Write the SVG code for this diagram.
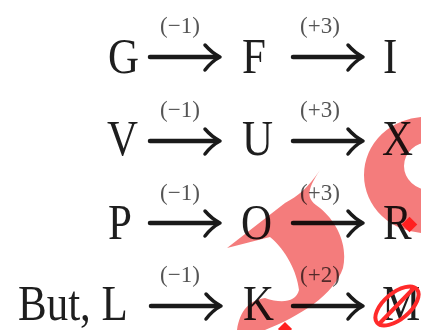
<svg xmlns="http://www.w3.org/2000/svg" xmlns:xlink="http://www.w3.org/1999/xlink" width="421" height="330" viewBox="0 0 421 330">
<style>
.t{font-family:"Liberation Serif","Times New Roman",serif;font-size:50px;fill:#1e1e1e}
.l{font-family:"Liberation Serif","Times New Roman",serif;font-size:23px;fill:#555;text-anchor:middle}
.a{fill:none;stroke:#1a1a1a;stroke-linecap:round;stroke-linejoin:round}
.wm{fill:#f47c7c;mix-blend-mode:multiply}
</style>
<defs>
<g id="arr">
<path class="a" d="M0,0 H66" stroke-width="4.5"/>
<path class="a" d="M55,-12 Q62,-4 70,0 Q62,4 55,13" stroke-width="3.5"/>
</g>
</defs>
<rect width="421" height="330" fill="#fff"/>
<g id="G"><text class="t" transform="translate(108,73) scale(0.86,1)">G</text></g>
<g id="F"><text class="t" transform="translate(242,73) scale(0.86,1)">F</text></g>
<g id="I"><text class="t" transform="translate(383,73) scale(0.86,1)">I</text></g>
<g id="V"><text class="t" transform="translate(107,155) scale(0.86,1)">V</text></g>
<g id="U"><text class="t" transform="translate(242,155) scale(0.86,1)">U</text></g>
<g id="X"><text class="t" transform="translate(382,155) scale(0.86,1)">X</text></g>
<g id="P"><text class="t" transform="translate(108,239) scale(0.86,1)">P</text></g>
<g id="O"><text class="t" transform="translate(241,239) scale(0.86,1)">O</text></g>
<g id="R"><text class="t" transform="translate(383,239) scale(0.86,1)">R</text></g>
<g id="L"><text class="t" transform="translate(18,320) scale(0.86,1)">But, L</text></g>
<g id="K"><text class="t" transform="translate(243,320) scale(0.86,1)">K</text></g>
<g id="M"><text class="t" transform="translate(382,320) scale(0.86,1)">M</text></g>
<g id="connectors">
<use xlink:href="#arr" x="150" y="57"/>
<use xlink:href="#arr" x="293" y="57"/>
<use xlink:href="#arr" x="150" y="141"/>
<use xlink:href="#arr" x="293" y="141"/>
<use xlink:href="#arr" x="150" y="223"/>
<use xlink:href="#arr" x="293" y="223"/>
<use xlink:href="#arr" x="151" y="306"/>
<use xlink:href="#arr" x="293" y="306"/>
<text class="l" x="180" y="33">(−1)</text>
<text class="l" x="320" y="33">(+3)</text>
<text class="l" x="180" y="117">(−1)</text>
<text class="l" x="320" y="117">(+3)</text>
<text class="l" x="180" y="200">(−1)</text>
<text class="l" x="320" y="200">(+3)</text>
<text class="l" x="180" y="282">(−1)</text>
<text class="l" x="320" y="282">(+2)</text>
</g>
<g id="watermark">
<path class="wm" fill-rule="evenodd" d="M486,175 A61,58 0 1 1 364,175 A61,58 0 1 1 486,175 Z M456,166 A26,24 0 1 1 404,166 A26,24 0 1 1 456,166 Z"/>
<path class="wm" d="M320,170 C308,188 298,196 285,203 L227,248 L270,237 C286,250 297,272 299,290 C296,302 282,304 265,298 C250,300 240,310 237,330 L265,330 C300,316 334,295 343,268 C348,245 337,222 320,208 C308,200 304,194 320,170 Z"/>
<rect x="404" y="219" width="11" height="11" fill="#ff2020" transform="rotate(45 409.5 224.5)"/>
<rect x="280" y="324" width="10" height="10" fill="#ff2020" transform="rotate(45 285 329)"/>
<ellipse cx="397" cy="306" rx="26" ry="13" transform="rotate(-40 397 306)" fill="none" stroke="#ff2a2a" stroke-width="4"/>
<path d="M378,325 L414,288" stroke="#ff2a2a" stroke-width="4" fill="none"/>
</g>
</svg>
